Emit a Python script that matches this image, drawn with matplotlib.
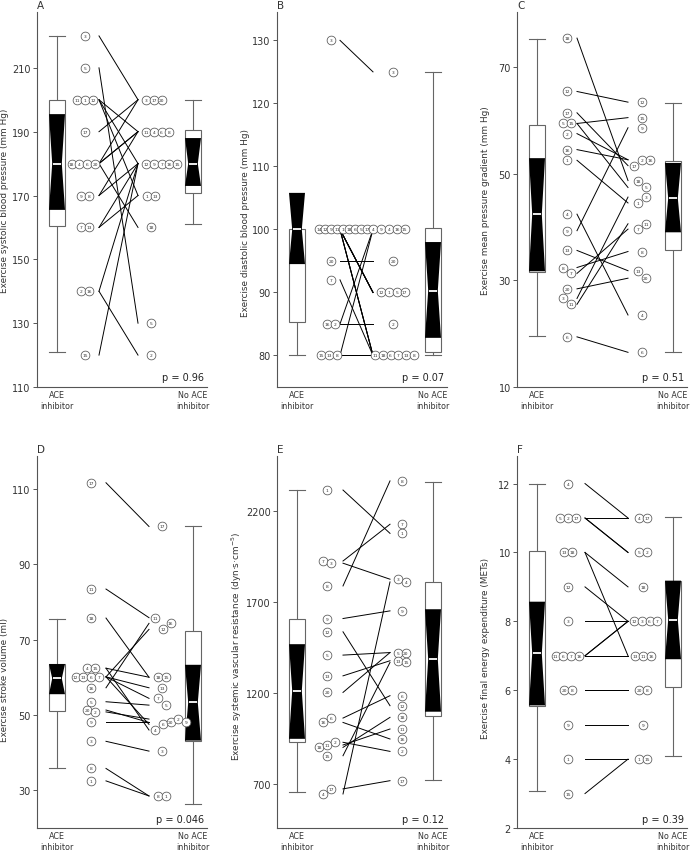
import numpy as np
import matplotlib.pyplot as plt
from matplotlib.patches import Rectangle, Polygon
from matplotlib.transforms import blended_transform_factory

plt.rcParams['font.family'] = ['DejaVu Sans']

# box stats: whisker low, q1, notch low, median, notch high, q3, whisker high

# A - exercise systolic blood pressure
a_ids = [3, 5, 11, 1, 12, 17, 18, 4, 6, 20, 9, 8, 7, 13, 2, 16, 15]
a_ace = [220, 210, 200, 200, 200, 190, 180, 180, 180, 180, 170, 170, 160, 160, 140, 140, 120]
a_noace = [200, 130, 190, 170, 180, 200, 160, 190, 190, 200, 180, 190, 180, 170, 120, 180, 180]
a_box_ace = [121, 160.5, 165.5, 180, 195.5, 200, 220]
a_box_no = [161, 170.8, 173, 180, 188, 190.5, 200]

# B - exercise diastolic blood pressure
b_ids = [3, 14, 12, 9, 11, 1, 18, 6, 5, 17, 4, 20, 7, 16, 2, 15, 13, 8]
b_ace = [130, 100, 100, 100, 100, 100, 100, 100, 100, 100, 100, 95, 92, 85, 85, 80, 80, 80]
b_noace = [125, np.nan, 90, 100, 80, 90, 80, 80, 90, 90, 100, 95, 80, 100, 85, 100, 80, 80]
b_box_ace = [80, 85.3, 94.5, 100, 105.8, 100, 100]
b_box_no = [80, 80.5, 82.8, 90.3, 98, 100.3, 125]

# C - exercise mean pressure gradient
c_ids = [18, 12, 17, 5, 15, 2, 16, 1, 4, 9, 13, 8, 7, 20, 3, 11, 6]
c_ace = [75.4, 65.4, 61.4, 59.4, 59.4, 57.5, 54.5, 52.5, 42.4, 39.3, 35.6, 32.4, 31.3, 28.4, 26.6, 25.5, 19.4]
c_noace = [48.7, 63.4, 51.5, 47.4, 60.5, 52.6, 52.6, 44.5, 23.5, 58.6, 31.8, 35.4, 39.6, 30.4, 45.6, 40.6, 16.5]
c_box_ace = [19.6, 31.5, 31.7, 42.4, 52.9, 59.2, 75.2]
c_box_no = [16.6, 35.6, 39, 45.4, 52, 52.4, 63.3]

# D - exercise stroke volume
d_ids = [17, 11, 18, 4, 15, 12, 13, 6, 7, 16, 5, 20, 2, 9, 3, 8, 1]
d_ace = [111.6, 83.4, 75.7, 62.4, 62.4, 60.1, 60.1, 60.1, 60.1, 57.2, 53.5, 51.3, 50.8, 48.2, 43, 35.8, 32.5]
d_noace = [100, 75.8, 60, 46, 60, 72.7, 57.2, 47.5, 54.4, 74.3, 52.6, 48, 48.9, 48.2, 40.4, 28.5, 28.5]
d_box_ace = [35.8, 51, 55.5, 59.7, 63.5, 63.5, 75.5]
d_box_no = [26.5, 43.2, 43.2, 53.3, 63.3, 72.4, 100]

# E - exercise systemic vascular resistance
e_ids = [1, 7, 3, 8, 9, 12, 5, 13, 20, 16, 6, 18, 11, 2, 15, 4, 17]
e_ace = [2315, 1925, 1913, 1788, 1609, 1536, 1408, 1294, 1203, 1038, 1062, 901, 914, 929, 855, 645, 673]
e_noace = [2077, 2127, 1825, 2365, 1651, 1130, 1422, 1377, 1422, 947, 1185, 1066, 1002, 879, 1368, 1810, 718]
e_box_ace = [655, 930, 948, 1212, 1468, 1605, 2315]
e_box_no = [722, 1071, 1097, 1386, 1660, 1807, 2359]

# F - exercise final energy expenditure
f_ids = [4, 5, 2, 17, 13, 18, 12, 3, 11, 6, 7, 16, 20, 8, 9, 1, 15]
f_ace = [12, 11, 11, 11, 10, 10, 9, 8, 7, 7, 7, 7, 6, 6, 5, 4, 3]
f_noace = [11, 10, 10, 11, 7, 9, 8, 8, 7, 8, 8, 7, 6, 6, 5, 4, 4]
f_box_ace = [3.07, 5.55, 5.56, 7.07, 8.57, 10.05, 12]
f_box_no = [4.08, 6.08, 6.9, 8.05, 9.18, 9.18, 11.02]

group_labels = ['ACE\ninhibitor', 'No ACE\ninhibitor']

panels = [
    dict(letter='A', ids=a_ids, ace=a_ace, no=a_noace, box_ace=a_box_ace, box_no=a_box_no,
         ylim=(110, 227.5), yticks=[110, 130, 150, 170, 190, 210], p='p = 0.96',
         ylabel='Exercise systolic blood pressure (mm Hg)', lab_y=0.5, lab_x=32,
         ace_col=(48, 28, 58), line_x=(62, 101), no_col=(114, 109)),
    dict(letter='B', ids=b_ids, ace=b_ace, no=b_noace, box_ace=b_box_ace, box_no=b_box_no,
         ylim=(75, 134.5), yticks=[80, 90, 100, 110, 120, 130], p='p = 0.07',
         ylabel='Exercise diastolic blood pressure (mm Hg)', lab_y=0.44, lab_x=32,
         ace_col=(54, 42, 60), line_x=(63, 96), no_col=(116, 98)),
    dict(letter='C', ids=c_ids, ace=c_ace, no=c_noace, box_ace=c_box_ace, box_no=c_box_no,
         ylim=(10, 80.3), yticks=[10, 30, 50, 70], p='p = 0.51',
         ylabel='Exercise mean pressure gradient (mm Hg)', lab_y=0.5, lab_x=32,
         ace_col=(50, 30, 58), line_x=(60, 111), no_col=(125, 117)),
    dict(letter='D', ids=d_ids, ace=d_ace, no=d_noace, box_ace=d_box_ace, box_no=d_box_no,
         ylim=(20, 118.7), yticks=[30, 50, 70, 90, 110], p='p = 0.046',
         ylabel='Exercise stroke volume (ml)', lab_y=0.40, lab_x=32,
         ace_col=(54, 30, 62), line_x=(69, 112), no_col=(125, 118)),
    dict(letter='E', ids=e_ids, ace=e_ace, no=e_noace, box_ace=e_box_ace, box_no=e_box_no,
         ylim=(458, 2502), yticks=[700, 1200, 1700, 2200], p='p = 0.12',
         ylabel='Exercise systemic vascular resistance (dyn\u00b7s\u00b7cm$^{-5}$)', lab_y=0.49, lab_x=40,
         ace_col=(50, 30, 60), line_x=(66, 113), no_col=(125, 119)),
    dict(letter='F', ids=f_ids, ace=f_ace, no=f_noace, box_ace=f_box_ace, box_no=f_box_no,
         ylim=(2, 12.8), yticks=[2, 4, 6, 8, 10, 12], p='p = 0.39',
         ylabel='Exercise final energy expenditure (METs)', lab_y=0.485, lab_x=32,
         ace_col=(51, 30, 62), line_x=(68, 111), no_col=(126, 117)),
]

FW, FH = 690, 853
XW = 170                      # axes width in px, x data = px right of the y axis
col_x = [37, 277, 517]
row_y = [(13, 388), (457, 829)]
BOX_X = (20, 156)
BOX_HW = 8
GREY = '#555555'

fig = plt.figure(figsize=(FW / 100, FH / 100), dpi=100)


def draw_box(ax, xc, st):
    wlo, q1, nlo, med, nhi, q3, whi = st
    kw = dict(color='#666666', lw=0.8, zorder=2)
    if whi > q3:
        ax.plot([xc, xc], [q3, whi], **kw)
        ax.plot([xc - BOX_HW, xc + BOX_HW], [whi, whi], **kw)
    if wlo < q1:
        ax.plot([xc, xc], [wlo, q1], **kw)
        ax.plot([xc - BOX_HW, xc + BOX_HW], [wlo, wlo], **kw)
    ax.add_patch(Rectangle((xc - BOX_HW, q1), 2 * BOX_HW, q3 - q1, fc='white',
                           ec='#666666', lw=0.8, zorder=2))
    w = BOX_HW * 0.6
    ax.add_patch(Polygon([(xc - BOX_HW, nhi), (xc + BOX_HW, nhi), (xc + w, med),
                          (xc + BOX_HW, nlo), (xc - BOX_HW, nlo), (xc - w, med)],
                         closed=True, fc='black', ec='none', zorder=3))
    ax.plot([xc - w + 0.8, xc + w - 0.8], [med, med], color='white', lw=1.3,
            solid_capstyle='butt', zorder=4)


def place(vals, col, lo, hi, ypx):
    idx = [i for i in range(len(vals)) if not np.isnan(vals[i])]
    order = sorted(idx, key=lambda i: -vals[i])
    clusters = []
    for i in order:
        if clusters and (vals[clusters[-1][-1]] - vals[i]) * ypx < 8.0:
            clusters[-1].append(i)
        else:
            clusters.append([i])
    pos = {}
    for cl in clusters:
        cl = sorted(cl)
        n = len(cl)
        d = 7.8 if n < 8 else 6.0
        half = (n - 1) * d / 2
        c = col
        if hi is not None:
            c = min(c, hi - half)
        if lo is not None:
            c = max(c, lo + half)
        for k, i in enumerate(cl):
            pos[i] = c - half + k * d
    return pos


for k, pn in enumerate(panels):
    r, c = divmod(k, 3)
    top, bot = row_y[r]
    ax = fig.add_axes([col_x[c] / FW, 1 - bot / FH, XW / FW, (bot - top) / FH])
    ax.set_xlim(0, XW)
    ax.set_ylim(*pn['ylim'])
    ypx = (bot - top) / (pn['ylim'][1] - pn['ylim'][0])

    ace = np.array(pn['ace'], dtype=float)
    no = np.array(pn['no'], dtype=float)

    # paired lines
    x0, x1 = pn['line_x']
    for a, b in zip(ace, no):
        if np.isnan(a) or np.isnan(b):
            continue
        ax.plot([x0, x1], [a, b], color='black', lw=0.7, zorder=1)

    # numbered patient circles
    ac, alo, ahi = pn['ace_col']
    nc, nlo = pn['no_col']
    for vals, pos in ((ace, place(ace, ac, alo, ahi, ypx)),
                      (no, place(no, nc, nlo, None, ypx))):
        for i, xp in pos.items():
            ax.plot(xp, vals[i], 'o', ms=6.3, mfc='white', mec='#555555', mew=0.55, zorder=5)
            ax.text(xp, vals[i], str(pn['ids'][i]), fontsize=3.2, ha='center',
                    va='center', color='#333333', zorder=6)

    draw_box(ax, BOX_X[0], pn['box_ace'])
    draw_box(ax, BOX_X[1], pn['box_no'])

    for s in ('top', 'right'):
        ax.spines[s].set_visible(False)
    for s in ('left', 'bottom'):
        ax.spines[s].set_color(GREY)
        ax.spines[s].set_linewidth(0.8)
    ax.set_yticks(pn['yticks'])
    ax.tick_params(axis='y', length=3, width=0.7, pad=1.5, labelsize=7,
                   color=GREY, labelcolor='#333333')
    ax.set_xticks(BOX_X, group_labels)
    ax.tick_params(axis='x', length=0, pad=2.5, labelsize=5.8, labelcolor='#333333')
    for t in ax.get_xticklabels():
        t.set_linespacing(1.15)

    ax.text(-pn['lab_x'] / XW, pn['lab_y'], pn['ylabel'], rotation=90, ha='center',
            va='center', fontsize=6.4, color='#333333', transform=ax.transAxes)
    ax.text(0, 1.005, pn['letter'], ha='left', va='bottom', fontsize=7.5,
            color='#333333', transform=ax.transAxes)
    tr = blended_transform_factory(ax.transData, ax.transAxes)
    ax.text(167, 0.012, pn['p'], ha='right', va='bottom', fontsize=7,
            color='#222222', transform=tr)

fig.savefig('out.png', dpi=100)
